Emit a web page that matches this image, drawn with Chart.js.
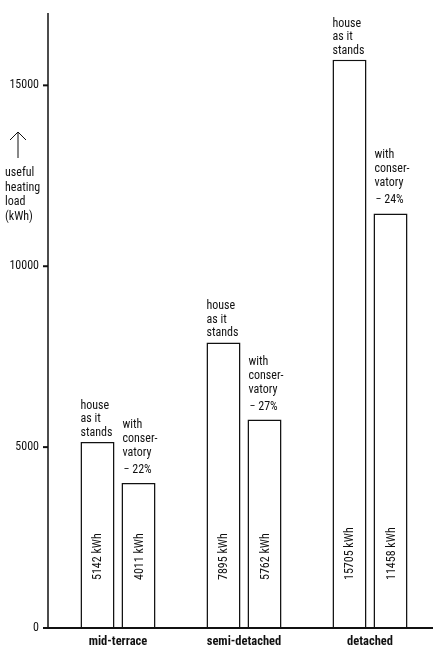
<!DOCTYPE html>
<html lang="en">
<head>
    <meta charset="UTF-8">
    <title>Useful heating load</title>
    <style>
        body {
            margin: 0;
            padding: 0;
            background-color: white;
        }
        #grafica {
            display: block;
        }
    </style>
</head>
<body>
    <canvas id="grafica" width="434" height="649"></canvas>

    <script src="https://cdn.jsdelivr.net/npm/chart.js"></script>
    <script>
        // Data
        const categories = ['mid-terrace', 'semi-detached', 'detached'];
        const asItStands = [5142, 7895, 15705];
        const withConservatory = [4011, 5762, 11458];
        const reductions = ['22%', '27%', '24%'];
        const yTicks = [0, 5000, 10000, 15000];

        const fontFamily = '"Roboto Condensed", "DejaVu Sans Condensed", sans-serif';
        const ink = '#111';

        // Axis lines, tick marks and all the hand lettering
        const annotations = {
            id: 'annotations',
            afterDraw(chart) {
                const ctx = chart.ctx;
                const yScale = chart.scales.y;
                const axisX = 48;
                const zeroY = yScale.getPixelForValue(0);

                ctx.save();
                ctx.strokeStyle = ink;
                ctx.fillStyle = ink;

                // y axis and baseline
                ctx.lineWidth = 1.5;
                ctx.beginPath();
                ctx.moveTo(axisX, chart.chartArea.top);
                ctx.lineTo(axisX, zeroY);
                ctx.stroke();
                ctx.lineWidth = 2;
                ctx.beginPath();
                ctx.moveTo(axisX - 4, zeroY);
                ctx.lineTo(chart.chartArea.right, zeroY);
                ctx.stroke();

                // tick marks
                ctx.lineWidth = 2;
                yScale.ticks.forEach(t => {
                    const y = yScale.getPixelForValue(t.value);
                    ctx.beginPath();
                    ctx.moveTo(axisX - 5, y);
                    ctx.lineTo(axisX, y);
                    ctx.stroke();
                });

                // axis title with arrow
                ctx.lineWidth = 1;
                ctx.beginPath();
                ctx.moveTo(18, 158);
                ctx.lineTo(18, 132);
                ctx.moveTo(10, 140);
                ctx.lineTo(18, 132);
                ctx.lineTo(26, 140);
                ctx.stroke();
                ctx.font = '12px ' + fontFamily;
                ctx.textAlign = 'left';
                ctx.textBaseline = 'alphabetic';
                ['useful', 'heating', 'load', '(kWh)'].forEach((s, i) => {
                    ctx.fillText(s, 5, 176 + i * 14.5);
                });

                // labels over and inside the bars
                const house = chart.getDatasetMeta(0).data;
                const cons = chart.getDatasetMeta(1).data;
                house.forEach((bar, i) => {
                    const left = bar.x - bar.width / 2;
                    ctx.fillText('house', left, bar.y - 33);
                    ctx.fillText('as it', left, bar.y - 19.5);
                    ctx.fillText('stands', left, bar.y - 6);
                });
                cons.forEach((bar, i) => {
                    const left = bar.x - bar.width / 2 + 1;
                    ctx.fillText('with', left, bar.y - 55);
                    ctx.fillText('conser-', left, bar.y - 41);
                    ctx.fillText('vatory', left, bar.y - 27);
                    ctx.fillText('\u2212 ' + reductions[i], left + 1, bar.y - 10);
                });

                [[house, asItStands], [cons, withConservatory]].forEach(([bars, values]) => {
                    bars.forEach((bar, i) => {
                        ctx.save();
                        ctx.translate(bar.x + 4, zeroY - 48);
                        ctx.rotate(-Math.PI / 2);
                        ctx.fillText(values[i] + ' kWh', 0, 0);
                        ctx.restore();
                    });
                });

                ctx.restore();
            }
        };

        const grafica = new Chart(document.getElementById('grafica'), {
            type: 'bar',
            data: {
                labels: categories,
                datasets: [{
                    label: 'house as it stands',
                    data: asItStands,
                    backgroundColor: 'white',
                    borderColor: ink,
                    borderWidth: 1.5,
                    barPercentage: 0.83,
                    categoryPercentage: 0.651
                }, {
                    label: 'with conservatory',
                    data: withConservatory,
                    backgroundColor: 'white',
                    borderColor: ink,
                    borderWidth: 1.5,
                    barPercentage: 0.83,
                    categoryPercentage: 0.651
                }]
            },
            options: {
                responsive: false,
                animation: false,
                devicePixelRatio: 1,
                layout: {
                    padding: { top: 13, right: 1, left: 0, bottom: 0 }
                },
                plugins: {
                    legend: { display: false },
                    tooltip: { enabled: false }
                },
                scales: {
                    x: {
                        grid: { display: false, drawTicks: false },
                        border: { display: false },
                        ticks: {
                            color: ink,
                            padding: 6,
                            font: { family: fontFamily, size: 12.5, weight: 'bold' }
                        },
                        afterFit(scale) {
                            scale.height = 21;
                            scale.paddingLeft = 0;
                            scale.paddingRight = 0;
                        }
                    },
                    y: {
                        min: 0,
                        max: 17000,
                        grid: { display: false, drawTicks: false },
                        border: { display: false },
                        ticks: {
                            stepSize: 5000,
                            color: ink,
                            padding: 16,
                            font: { family: fontFamily, size: 12 },
                            callback: value => String(value)
                        },
                        afterBuildTicks(scale) {
                            scale.ticks = yTicks.map(v => ({ value: v }));
                        },
                        afterFit(scale) {
                            scale.width = 55;
                            scale.paddingTop = 0;
                            scale.paddingBottom = 0;
                        }
                    }
                }
            },
            plugins: [annotations]
        });
    </script>
</body>
</html>
